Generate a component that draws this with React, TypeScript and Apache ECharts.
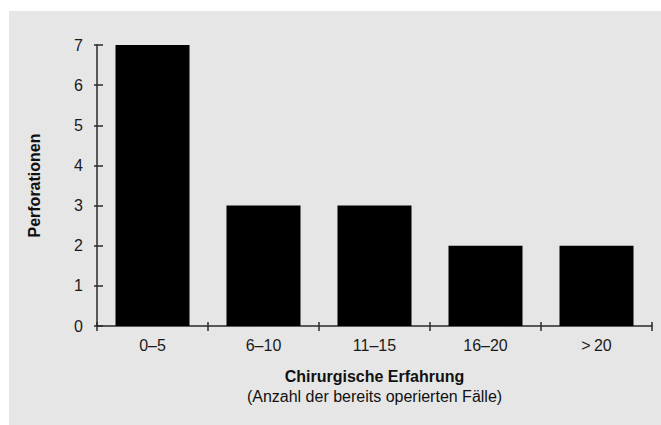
import React, { useEffect, useRef } from "react";
import * as echarts from "echarts";

const categories = ["0\u20135", "6\u201310", "11\u201315", "16\u201320", ">\u200920"];
const perforations = [7, 3, 3, 2, 2];
const yTicks = [0, 1, 2, 3, 4, 5, 6, 7];
const yTitle = "Perforationen";
const xTitle = "Chirurgische Erfahrung";
const xSubtitle = "(Anzahl der bereits operierten Fälle)";

const FONT = "'Liberation Sans', Arial, Helvetica, sans-serif";

export default function App() {
  const ref = useRef<HTMLDivElement>(null);
  useEffect(() => {
    if (!ref.current) return;
    const chart = echarts.init(ref.current, undefined, { renderer: "svg" });
    const axisColor = "#2a2a2a";
    chart.setOption({
      animation: false,
      backgroundColor: "#ffffff",
      textStyle: { fontFamily: FONT },
      graphic: [
        {
          type: "rect",
          z: -10,
          shape: { x: 9, y: 11, width: 660, height: 420 },
          style: { fill: "#e6e6e6" },
          silent: true,
        },
        {
          type: "text",
          x: 374.5,
          y: 376,
          style: {
            text: xTitle,
            fontFamily: FONT,
            fontSize: 16,
            fontWeight: "bold",
            fill: "#111",
            align: "center",
            verticalAlign: "middle",
          },
        },
        {
          type: "text",
          x: 374.5,
          y: 396,
          style: {
            text: xSubtitle,
            fontFamily: FONT,
            fontSize: 16,
            fill: "#111",
            align: "center",
            verticalAlign: "middle",
          },
        },
      ],
      grid: { left: 97, right: 9, top: 45, bottom: 99, containLabel: false },
      xAxis: [
        {
          type: "category",
          data: categories,
          position: "bottom",
          boundaryGap: true,
          axisLine: { show: true, lineStyle: { color: axisColor, width: 1.5 } },
          axisTick: { show: true, inside: false, length: 5, lineStyle: { color: axisColor, width: 1.5 } },
          axisLabel: { margin: 11, fontSize: 16, color: "#1a1a1a", fontFamily: FONT },
          splitLine: { show: false },
        },
        {
          type: "category",
          data: categories,
          position: "bottom",
          boundaryGap: true,
          axisLine: { show: false },
          axisTick: { show: true, inside: true, length: 4, lineStyle: { color: axisColor, width: 1.5 } },
          axisLabel: { show: false },
          splitLine: { show: false },
        },
      ],
      yAxis: [
        {
          type: "value",
          min: 0,
          max: yTicks[yTicks.length - 1],
          interval: 1,
          position: "left",
          name: yTitle,
          nameLocation: "middle",
          nameGap: 55,
          nameTextStyle: { fontSize: 16, fontWeight: "bold", color: "#111", fontFamily: FONT },
          axisLine: { show: true, lineStyle: { color: axisColor, width: 1.5 } },
          axisTick: { show: true, inside: true, length: 6, lineStyle: { color: axisColor, width: 1.5 } },
          axisLabel: { margin: 14, fontSize: 16, color: "#1a1a1a", fontFamily: FONT },
          splitLine: { show: false },
        },
        {
          type: "value",
          min: 0,
          max: yTicks[yTicks.length - 1],
          interval: 1,
          position: "left",
          axisLine: { show: false },
          axisTick: { show: true, inside: false, length: 3, lineStyle: { color: axisColor, width: 1.5 } },
          axisLabel: { show: false },
          splitLine: { show: false },
        },
      ],
      series: [
        {
          type: "bar",
          data: perforations,
          xAxisIndex: 0,
          yAxisIndex: 0,
          barWidth: 74,
          itemStyle: { color: "#000000" },
        },
      ],
    });
    return () => chart.dispose();
  }, []);
  return (
    <div
      ref={ref}
      style={{ position: "fixed", left: 0, top: 0, width: 661, height: 425 }}
    />
  );
}
